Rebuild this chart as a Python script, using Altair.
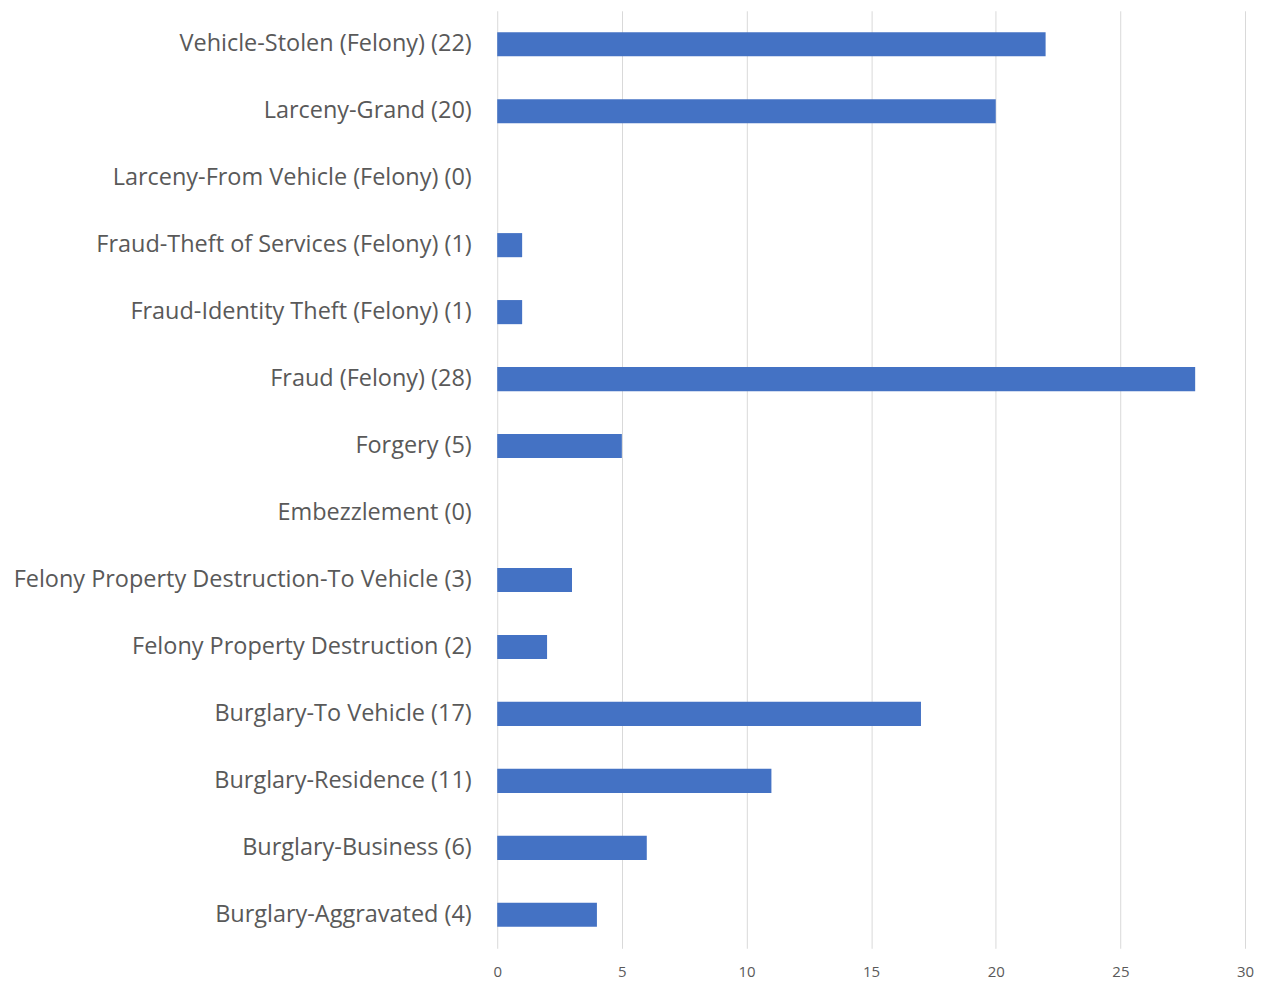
import altair as alt
import pandas as pd

categories = [
    "Vehicle-Stolen (Felony) (22)",
    "Larceny-Grand (20)",
    "Larceny-From Vehicle (Felony) (0)",
    "Fraud-Theft of Services (Felony) (1)",
    "Fraud-Identity Theft (Felony) (1)",
    "Fraud (Felony) (28)",
    "Forgery (5)",
    "Embezzlement (0)",
    "Felony Property Destruction-To Vehicle (3)",
    "Felony Property Destruction (2)",
    "Burglary-To Vehicle (17)",
    "Burglary-Residence (11)",
    "Burglary-Business (6)",
    "Burglary-Aggravated (4)",
]
values = [22, 20, 0, 1, 1, 28, 5, 0, 3, 2, 17, 11, 6, 4]
x_ticks = [0, 5, 10, 15, 20, 25, 30]

df = pd.DataFrame({"category": categories, "value": values})

FONT = "Open Sans"

chart = (
    alt.Chart(df)
    .mark_bar(color="#4472C4")
    .encode(
        x=alt.X(
            "value:Q",
            scale=alt.Scale(domain=[0, 30], nice=False),
            axis=alt.Axis(
                values=x_ticks,
                title=None,
                domain=False,
                ticks=False,
                grid=True,
                gridColor="#d9d9d9",
                gridWidth=1,
                labelFont=FONT,
                labelFontSize=15,
                labelColor="#595959",
                labelPadding=16,
                labelFlush=False,
            ),
        ),
        y=alt.Y(
            "category:N",
            sort=None,
            scale=alt.Scale(paddingInner=0.64, paddingOuter=0.32),
            axis=alt.Axis(
                title=None,
                domain=False,
                ticks=False,
                labelFont=FONT,
                labelFontSize=23.5,
                labelColor="#595959",
                labelPadding=26,
                labelLimit=600,
                minExtent=490,
                maxExtent=490,
            ),
        ),
    )
    .properties(width=749, height=939, padding={"left": 0, "top": 2, "right": 5, "bottom": 5})
    .configure_view(stroke=None)
)

chart.save("out.html", embed_options={"renderer": "svg", "actions": False})
